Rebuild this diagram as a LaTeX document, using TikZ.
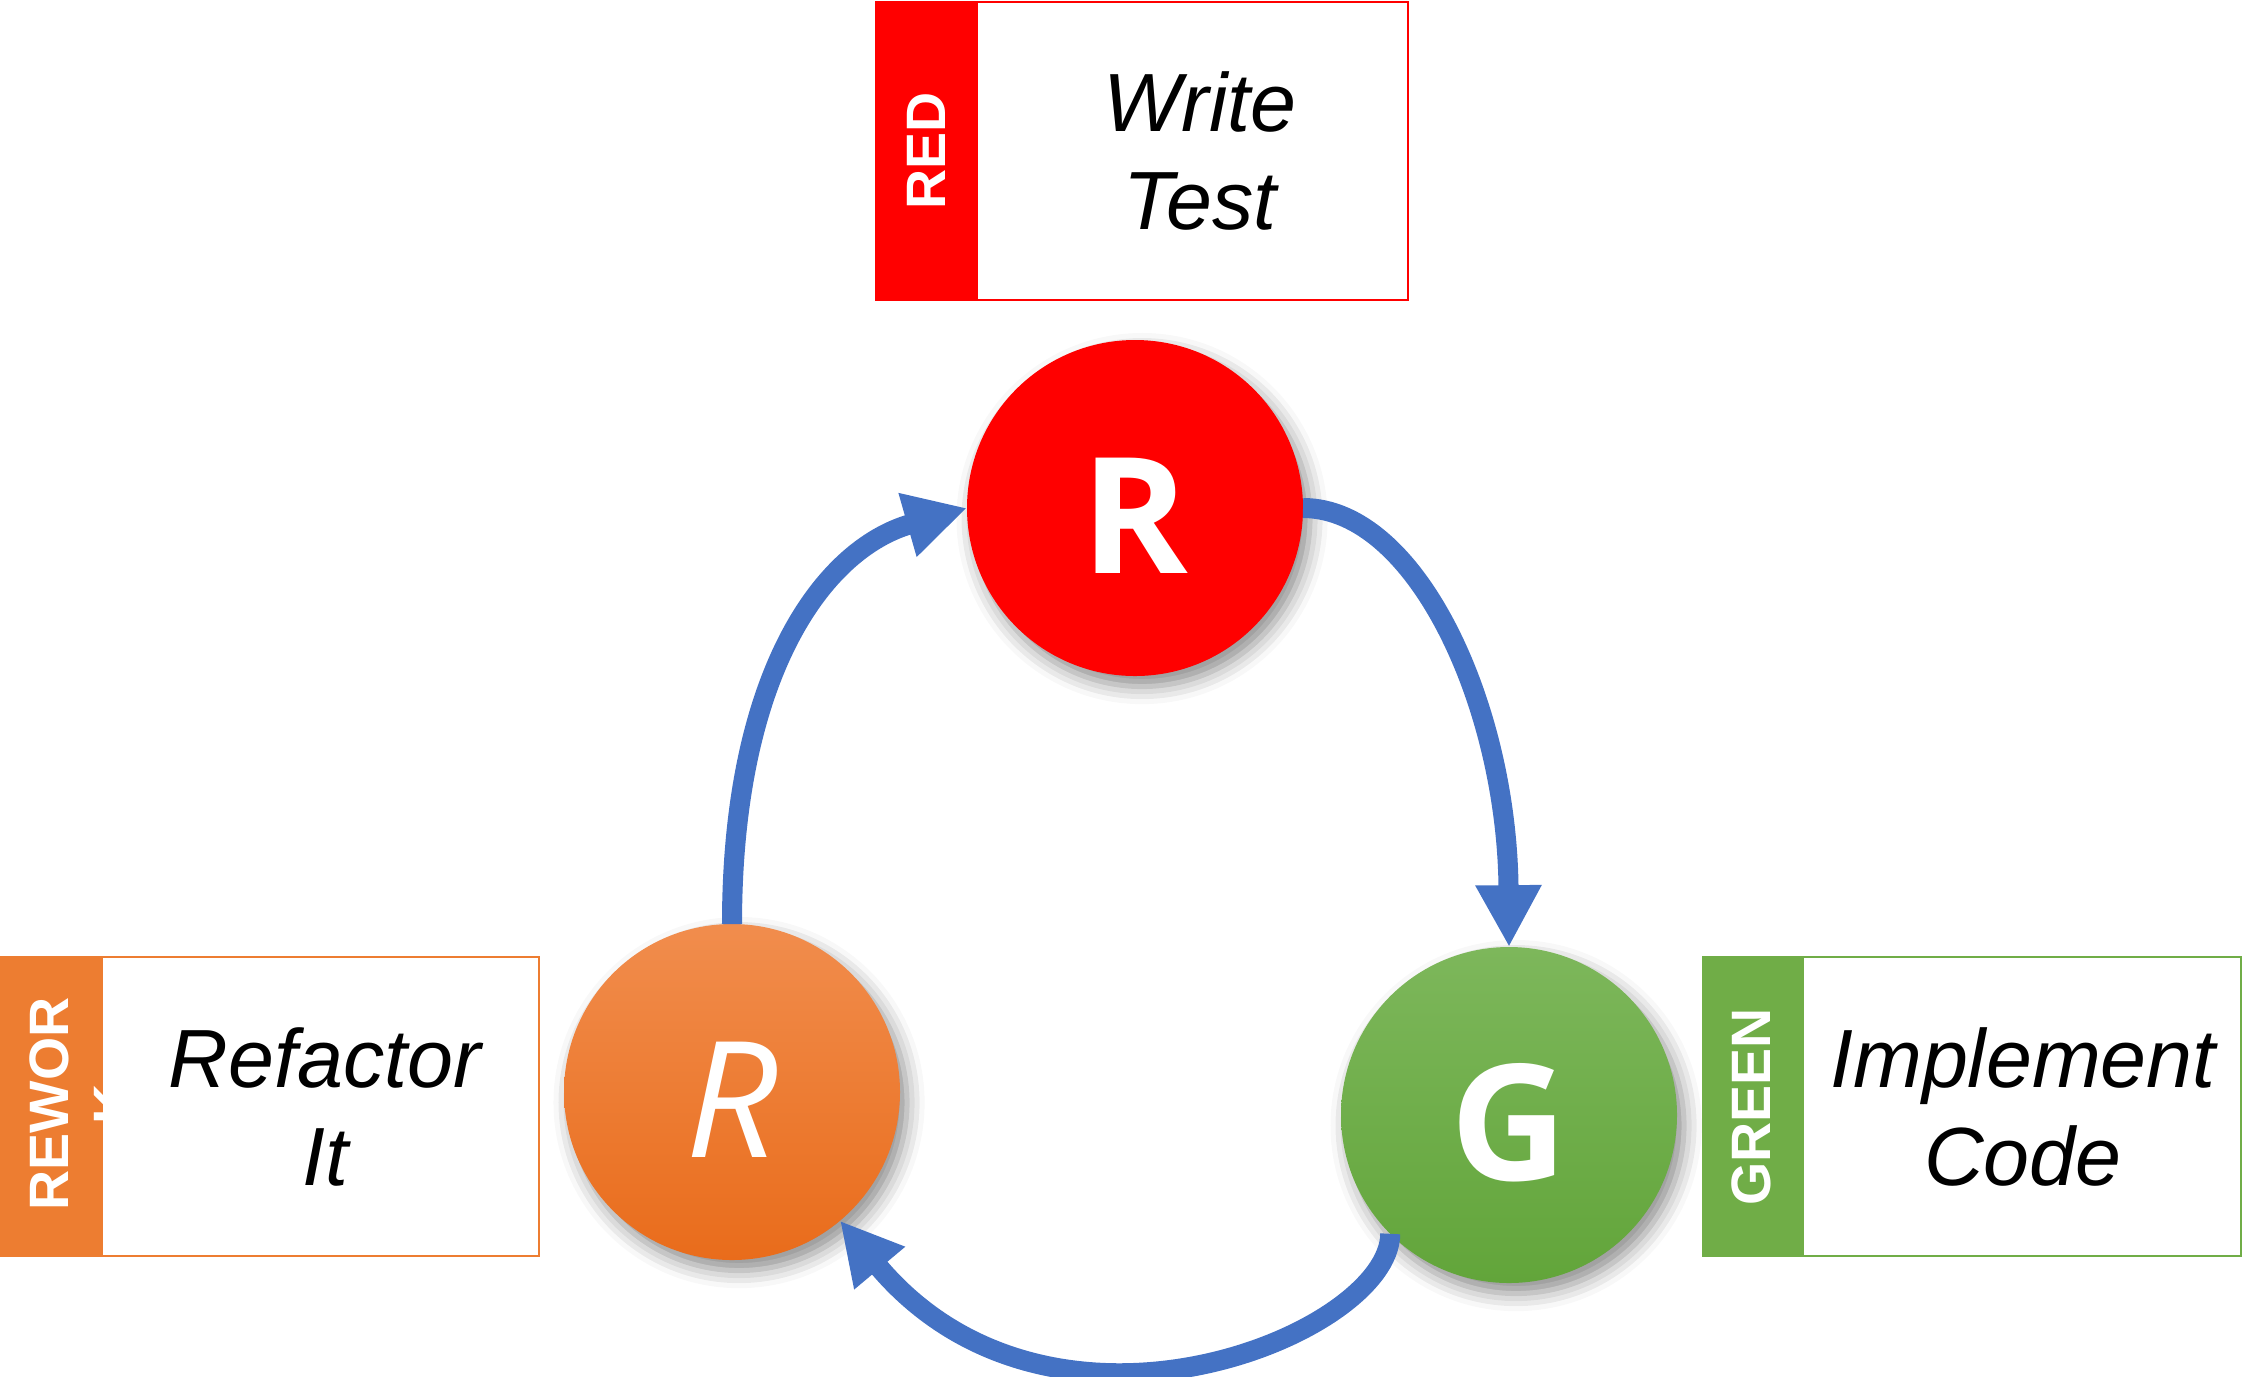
\documentclass[tikz,border=0pt]{standalone}
\usepackage{fontspec}
\setmainfont{Liberation Sans}
\newfontfamily\opensans{Open Sans}
\usetikzlibrary{arrows.meta,shadows.blur,calc}
\definecolor{tddred}{HTML}{FF0000}
\definecolor{tddorange}{HTML}{ED7D31}
\definecolor{tddgreen}{HTML}{70AD47}
\definecolor{flowblue}{HTML}{4472C4}
\definecolor{gtop}{HTML}{7DB75B}
\definecolor{gbot}{HTML}{62A53A}
\definecolor{otop}{HTML}{F18D4D}
\definecolor{obot}{HTML}{E96C1B}
\begin{document}
\begin{tikzpicture}[
  phase/.style={circle, minimum size=3.36cm, inner sep=0pt, outer sep=0pt, text=white,
    text height=1.30cm, text depth=0pt,
    font=\opensans\bfseries\fontsize{46}{50}\selectfont,
    blur shadow={shadow xshift=2pt, shadow yshift=-3pt, shadow blur radius=5pt, shadow opacity=45}},
  flow/.style={draw=flowblue, line width=5.7pt, -{Triangle[width=17.6pt,length=17.6pt]}},
  desc/.style={font=\itshape\fontsize{23.5}{27.9}\selectfont, align=center, inner sep=0pt},
  tag/.style={rotate=90, text=white, font=\bfseries\fontsize{15.8}{18.2}\selectfont, align=center, inner sep=0pt},
  boxline/.style={line width=0.8pt},
]
\useasboundingbox (0,0) rectangle (22.64,-13.76);

% top box (RED)
\fill[tddred] (8.76,-0.02) rectangle (9.78,-3.00);
\node[tag] (redtag) at (9.26,-1.51) {RED};
\draw[tddred, boxline] (8.76,-0.02) rectangle (14.08,-3.00);
\node[desc] (write) at (12.00,-1.51) {Write\\Test};

% left box (REWORK)
\fill[tddorange] (0.01,-9.57) rectangle (1.03,-12.56);
\node[tag] (reworktag) at (0.815,-11.04) {REWOR\\K};
\fill[white] (1.03,-9.57) rectangle (5.39,-12.56);
\draw[tddorange, boxline] (0.01,-9.57) rectangle (5.39,-12.56);
\node[desc] (refactor) at (3.25,-11.07) {Refactor\\It};

% right box (GREEN)
\fill[tddgreen] (17.03,-9.57) rectangle (18.04,-12.56);
\node[tag] (greentag) at (17.51,-11.07) {GREEN};
\draw[tddgreen, boxline] (17.03,-9.57) rectangle (22.41,-12.56);
\node[desc] (implement) at (20.23,-11.07) {Implement\\Code};

% circles
\node[phase, fill=tddred] (R) at (11.35,-5.08) {R};
\node[phase, top color=gtop, bottom color=gbot] (G) at (15.09,-11.15) {G};
\node[phase, top color=otop, bottom color=obot,
      font=\opensans\itshape\fontsize{46}{50}\selectfont] (O) at (7.32,-10.92) {R};

% arrows
\draw[flow] (O.north) .. controls ($(O.north)+(0,2.50)$) and ($(R.west)+(-1.44,-0.41)$) .. (R.west);
\draw[flow] (R.east) .. controls ($(R.east)+(1.13,0)$) and ($(G.north)+(-0.02,2.42)$) .. (G.north);
\draw[flow] (G.south west) .. controls ($(G.south west)+(0,-1.00)$) and ($(O.-50)+(2.12,-2.53)$) .. (O.-50);
\end{tikzpicture}
\end{document}
